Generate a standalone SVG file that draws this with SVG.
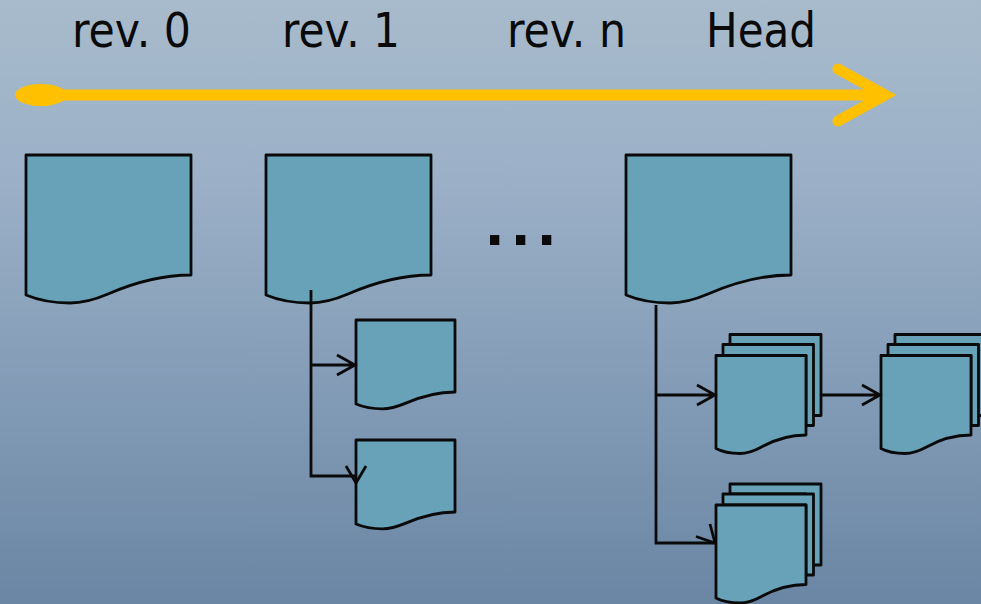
<svg xmlns="http://www.w3.org/2000/svg" width="981" height="604" viewBox="0 0 981 604">
<style>
.doc{fill:#67a2b9;stroke:#0a0a0a;stroke-width:2.8;stroke-linejoin:round}
.con{fill:none;stroke:#0a0a0a;stroke-width:2.8}
.lab{font-family:"DejaVu Sans",sans-serif;font-size:48px;fill:#0a0a0a}
</style>
<defs>
<linearGradient id="bg" x1="0" y1="0" x2="0" y2="1"><stop offset="0" stop-color="#a8bbcc"/><stop offset=".3" stop-color="#9bb0c7"/><stop offset="1" stop-color="#6a86a4"/></linearGradient>
<path id="big" d="M0 0H165V120C132 120 105 129 82 139C68 145 56 148 44 148C28 148 12 145 0 140Z"/>
<path id="small" d="M0 0H99V72C79 72 63 77.400 49.200 83.400C42 86.400 34 88.800 26.400 88.800C16.800 88.800 7.200 87 0 84Z"/>
<path id="f" d="M0 0H90V79.500C72 79.500 57 85 45 91.700C38 95.500 31 98 24 98C15 98 6.500 96.500 0 93Z"/>
<g id="stackShape"><path class="doc" d="M14 -21H105V60H90V-11H14Z"/><path class="doc" d="M7 -11H97.500V70H90V0H7Z"/><use href="#f" class="doc"/></g>
</defs>
<rect width="981" height="604" fill="url(#bg)"/>
<g id="labels">
<text class="lab" x="72" y="47" textLength="119" lengthAdjust="spacingAndGlyphs">rev. 0</text>
<text class="lab" x="282" y="47" textLength="118" lengthAdjust="spacingAndGlyphs">rev. 1</text>
<text class="lab" x="507" y="47" textLength="119" lengthAdjust="spacingAndGlyphs">rev. n</text>
<text class="lab" x="706" y="47" textLength="110" lengthAdjust="spacingAndGlyphs">Head</text>
<text id="dots" x="485.500" y="245" style="font-family:'Liberation Sans',sans-serif;font-size:66px;font-weight:bold;letter-spacing:7.700px;fill:#0a0a0a">...</text>
</g>
<g id="timeline"><ellipse cx="41" cy="95" rx="26" ry="11" fill="#ffc000"/><path d="M50 95H885M838 69L885 95L838 121" fill="none" stroke="#ffc000" stroke-width="11" stroke-linecap="round" stroke-linejoin="miter"/></g>
<g id="rev0"><use href="#big" class="doc" x="26" y="155"/></g>
<g id="rev1"><use href="#big" class="doc" x="266" y="155"/></g>
<g id="revn"><use href="#big" class="doc" x="626" y="155"/></g>
<g id="child1"><use href="#small" class="doc" x="356" y="320"/></g>
<g id="child2"><use href="#small" class="doc" x="356" y="440"/></g>
<g id="stack1"><use href="#stackShape" x="716" y="355.500"/></g>
<g id="stack2"><use href="#stackShape" x="881" y="355.500"/></g>
<g id="stack3"><use href="#stackShape" x="716" y="505"/></g>
<g id="connectors">
<path class="con" d="M311 290V476H356"/><path class="con" d="M311 365H355M337 355L355 365L337 375"/><path class="con" d="M346 466L356 483L366 466"/>
<path class="con" d="M656 305V543H715"/><path class="con" d="M656 395H715M697 385L715 395L697 405"/><path class="con" d="M696 536.500L715 543L710 524"/>
<path class="con" d="M821 395H880M862 385L880 395L862 405"/>
</g>
</svg>
